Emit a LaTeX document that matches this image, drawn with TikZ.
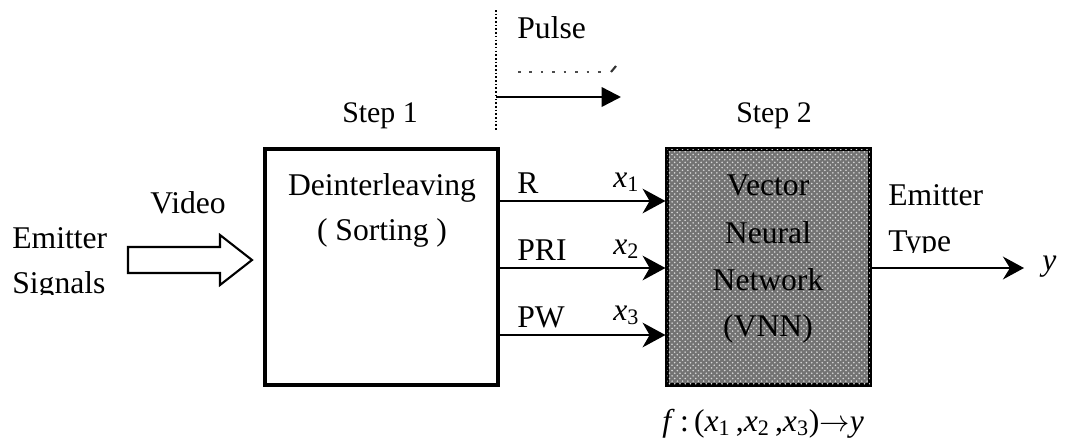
\documentclass[tikz,border=0pt]{standalone}
\usepackage{fontspec}
\setmainfont{Liberation Serif}
\usetikzlibrary{arrows.meta,patterns}
\newcommand\xsub[1]{\textit{x}\textsubscript{#1}}
\begin{document}
\begin{tikzpicture}[x=0.02cm,y=-0.02cm,
  txt/.style={font=\fontsize{18}{21}\selectfont, inner sep=0pt},
  steptxt/.style={font=\fontsize{17}{20}\selectfont, inner sep=0pt},
  blockbox/.style={draw, line width=1.8pt, inner sep=0pt},
  conn/.style={line width=1.2pt, -{Stealth[length=13pt,width=14pt,inset=4pt]}},
  outconn/.style={line width=1.2pt, -{Stealth[length=12pt,width=13pt,inset=4pt]}},
  pulsearrow/.style={line width=1.4pt, -{Triangle[length=11pt,width=11pt]}},
  hollow/.style={draw, line width=1.2pt, fill=white}]
\useasboundingbox (0,0) rectangle (1067,447);

% processing blocks
\node[blockbox, minimum width=4.66cm, minimum height=4.72cm] (sort) at (381.5,267) {};
\node[blockbox, minimum width=4.06cm, minimum height=4.72cm,
      fill=black!55, postaction={pattern=crosshatch dots, pattern color=white!85!black}] (vnn) at (768.5,267) {};

% block texts
\node[txt, anchor=base] (deint) at (382,195) {Deinterleaving};
\node[txt, anchor=base] (sortlab) at (382,240) {( Sorting )};
\node[txt, anchor=base] (vec) at (768,195) {Vector};
\node[txt, anchor=base] (neu) at (768,243) {Neural};
\node[txt, anchor=base] (net) at (768,290) {Network};
\node[txt, anchor=base] (vnnlab) at (768,336) {(VNN)};

\node[steptxt, anchor=base] (step1) at (380,122) {Step 1};
\node[steptxt, anchor=base] (step2) at (774,122) {Step 2};

% pulse divider and arrow
\coordinate (divtop) at (496,10);
\coordinate (divbot) at (496,130);
\draw[line width=1.3pt, dash pattern=on 0.9pt off 1.2pt] (divtop) -- (divbot);
\node[txt, anchor=base west] (pulse) at (517,38) {Pulse};
\coordinate (pstart) at (496,97);
\coordinate (pend) at (621,97);
\draw[pulsearrow] (pstart) -- (pend);
\coordinate (fa) at (518,72);
\coordinate (fb) at (606,72);
\coordinate (fc) at (611,72);
\coordinate (fd) at (616,66);
\draw[black!70, line width=1pt, dash pattern=on 1.5pt off 5pt] (fa) -- (fb);
\draw[black!80, line width=1.2pt] (fc) -- (fd);

% feature lines
\coordinate (r1) at (0,201);
\coordinate (r2) at (0,268);
\coordinate (r3) at (0,335);
\draw[conn] (sort.east |- r1) -- (vnn.west |- r1);
\draw[conn] (sort.east |- r2) -- (vnn.west |- r2);
\draw[conn] (sort.east |- r3) -- (vnn.west |- r3);
\node[txt, anchor=base west] (lr) at (517,193) {R};
\node[txt, anchor=base west] (lpri) at (517,260) {PRI};
\node[txt, anchor=base west] (lpw) at (517,327) {PW};
\node[txt, anchor=base west] (x1) at (613,187) {\xsub{1}};
\node[txt, anchor=base west] (x2) at (613,254) {\xsub{2}};
\node[txt, anchor=base west] (x3) at (613,320) {\xsub{3}};

% input side
\node[txt, anchor=base west] (video) at (150,213) {Video};
\node[txt, anchor=base west] (em1) at (12,248) {Emitter};
\begin{scope}
  \clip (0,252) rectangle (140,294);
  \node[txt, anchor=base west] (sig) at (12,293) {Signals};
\end{scope}
\draw[hollow] (128,247) -- (220,247) -- (220,235) -- (252,260) -- (220,285)
  -- (220,273) -- (128,273) -- cycle;

% output side
\node[txt, anchor=base west] (em2) at (888,205) {Emitter};
\begin{scope}
  \clip (880,212) rectangle (1010,252);
  \node[txt, anchor=base west] (etype) at (888,251) {Type};
\end{scope}
\node[txt, anchor=base west] (ylab) at (1042,270) {\textit{y}};
\coordinate (yend) at (1024,268);
\draw[outconn] (vnn.east |- r2) -- (yend);

% mapping
\node[txt, anchor=base west] (fmap) at (662,431)
  {\textit{f}\,:\,(\xsub{1}\,,\xsub{2}\,,\xsub{3})$\rightarrow$\textit{y}};
\end{tikzpicture}
\end{document}
